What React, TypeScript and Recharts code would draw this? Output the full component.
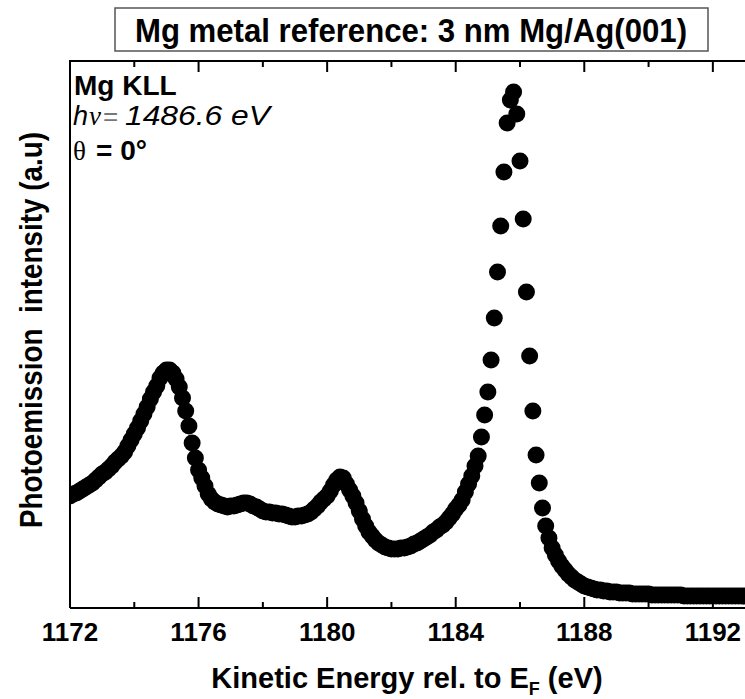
import { Scatter, ScatterChart, XAxis, YAxis } from 'recharts';

// kinetic energy grid (eV), 0.1 eV steps as read from the dot spacing
const energies = [
	1172.0, 1172.1, 1172.2, 1172.3, 1172.4, 1172.5, 1172.6, 1172.7, 1172.8, 1172.9,
	1173.0, 1173.1, 1173.2, 1173.3, 1173.4, 1173.5, 1173.6, 1173.7, 1173.8, 1173.9,
	1174.0, 1174.1, 1174.2, 1174.3, 1174.4, 1174.5, 1174.6, 1174.7, 1174.8, 1174.9,
	1175.0, 1175.1, 1175.2, 1175.3, 1175.4, 1175.5, 1175.6, 1175.7, 1175.8, 1175.9,
	1176.0, 1176.1, 1176.2, 1176.3, 1176.4, 1176.5, 1176.6, 1176.7, 1176.8, 1176.9,
	1177.0, 1177.1, 1177.2, 1177.3, 1177.4, 1177.5, 1177.6, 1177.7, 1177.8, 1177.9,
	1178.0, 1178.1, 1178.2, 1178.3, 1178.4, 1178.5, 1178.6, 1178.7, 1178.8, 1178.9,
	1179.0, 1179.1, 1179.2, 1179.3, 1179.4, 1179.5, 1179.6, 1179.7, 1179.8, 1179.9,
	1180.0, 1180.1, 1180.2, 1180.3, 1180.4, 1180.5, 1180.6, 1180.7, 1180.8, 1180.9,
	1181.0, 1181.1, 1181.2, 1181.3, 1181.4, 1181.5, 1181.6, 1181.7, 1181.8, 1181.9,
	1182.0, 1182.1, 1182.2, 1182.3, 1182.4, 1182.5, 1182.6, 1182.7, 1182.8, 1182.9,
	1183.0, 1183.1, 1183.2, 1183.3, 1183.4, 1183.5, 1183.6, 1183.7, 1183.8, 1183.9,
	1184.0, 1184.1, 1184.2, 1184.3, 1184.4, 1184.5, 1184.6, 1184.7, 1184.8, 1184.9,
	1185.0, 1185.1, 1185.2, 1185.3, 1185.4, 1185.5, 1185.6, 1185.7, 1185.8, 1185.9,
	1186.0, 1186.1, 1186.2, 1186.3, 1186.4, 1186.5, 1186.6, 1186.7, 1186.8, 1186.9,
	1187.0, 1187.1, 1187.2, 1187.3, 1187.4, 1187.5, 1187.6, 1187.7, 1187.8, 1187.9,
	1188.0, 1188.1, 1188.2, 1188.3, 1188.4, 1188.5, 1188.6, 1188.7, 1188.8, 1188.9,
	1189.0, 1189.1, 1189.2, 1189.3, 1189.4, 1189.5, 1189.6, 1189.7, 1189.8, 1189.9,
	1190.0, 1190.1, 1190.2, 1190.3, 1190.4, 1190.5, 1190.6, 1190.7, 1190.8, 1190.9,
	1191.0, 1191.1, 1191.2, 1191.3, 1191.4, 1191.5, 1191.6, 1191.7, 1191.8, 1191.9,
	1192.0, 1192.1, 1192.2, 1192.3, 1192.4, 1192.5, 1192.6, 1192.7, 1192.8, 1192.9,
	1193.0,
];

// photoemission intensity (a.u.), one row per eV
const intensities = [
	112, 114, 115, 117, 119, 121, 123, 125, 128, 131,
	134, 136, 139, 142, 146, 149, 152, 156, 162, 168,
	174, 180, 187, 194, 201, 209, 216, 222, 230, 235,
	238, 238, 235, 229, 221, 210, 197, 182, 165, 150,
	138, 130, 122, 114, 109, 106, 104, 103, 102, 101,
	102, 102, 103, 104, 105, 105, 104, 102, 101, 99,
	97, 96, 96, 95, 95, 94, 94, 93, 92, 91,
	91, 92, 92, 93, 94, 96, 99, 102, 106, 109,
	112, 117, 123, 128, 131, 130, 124, 118, 112, 105,
	97, 89, 82, 76, 72, 68, 65, 63, 61, 60,
	59, 59, 59, 60, 60, 61, 62, 64, 65, 67,
	69, 71, 73, 76, 78, 81, 83, 86, 90, 94,
	99, 103, 108, 116, 124, 132, 142, 152, 171, 193,
	216, 248, 290, 336, 382, 436, 485, 508, 516, 494,
	447, 389, 316, 252, 197, 153, 125, 100, 82, 70,
	60, 53, 47, 42, 38, 34, 31, 28, 26, 24,
	22, 21, 20, 19, 18, 18, 17, 17, 16, 16,
	16, 15, 15, 15, 15, 14, 14, 14, 14, 14,
	14, 13, 13, 13, 13, 13, 13, 13, 13, 13,
	13, 12, 12, 12, 12, 12, 12, 12, 12, 12,
	12, 12, 12, 12, 12, 12, 12, 12, 12, 12,
	12,
];

const xTicks = [1172, 1174, 1176, 1178, 1180, 1182, 1184, 1186, 1188, 1190, 1192];
const xDomain = [1172, 1193];
const yMax = 547;

const data = energies.map((e, i) => ({ energy: e, intensity: intensities[i] }));

// plot box
const W = 745;
const H = 699;
const PLOT_LEFT = 70;
const PLOT_TOP = 61;
const X_AXIS_H = 91;

const FONT = '"Liberation Sans", Arial, sans-serif';
const SERIF = '"Liberation Serif", "DejaVu Serif", serif';

const BottomTick = (props: any) => {
	const { x, y, payload } = props;
	const major = payload.value % 4 === 0;
	return (
		<g>
			<line x1={x} y1={y} x2={x} y2={y - (major ? 11 : 6)} stroke='#000' strokeWidth={2} />
			{major && (
				<text x={x} y={y + 33} textAnchor='middle' fontFamily={FONT} fontWeight='bold' fontSize={26} fill='#000'>
					{payload.value}
				</text>
			)}
		</g>
	);
};

const Dot = (props: any) => <circle cx={props.cx} cy={props.cy} r={8.5} fill='#000' />;

// mirror of the bottom axis along the top frame (same linear mapping)
const topX = (v: number) => PLOT_LEFT + ((v - xDomain[0]) / (xDomain[1] - xDomain[0])) * (W - PLOT_LEFT);

export default function App() {
	return (
		<div style={{ position: 'absolute', left: 0, top: 0, width: W, height: H, background: '#fff' }}>
			<ScatterChart width={W} height={H} margin={{ top: PLOT_TOP, right: 0, bottom: 0, left: 0 }}>
				<XAxis
					dataKey='energy'
					type='number'
					domain={xDomain}
					ticks={xTicks}
					interval={0}
					height={X_AXIS_H}
					tickSize={0}
					tickMargin={0}
					tickLine={false}
					tick={<BottomTick />}
					axisLine={{ stroke: '#000', strokeWidth: 2 }}
					allowDataOverflow
				/>
				<YAxis
					dataKey='intensity'
					type='number'
					domain={[0, yMax]}
					width={PLOT_LEFT}
					tick={false}
					tickLine={false}
					axisLine={{ stroke: '#000', strokeWidth: 2 }}
				/>
				<Scatter data={data} shape={<Dot />} isAnimationActive={false} />
			</ScatterChart>
			<svg width={W} height={H} style={{ position: 'absolute', left: 0, top: 0, pointerEvents: 'none' }} fontFamily={FONT}>
				{/* top frame */}
				<line x1={PLOT_LEFT - 1} y1={PLOT_TOP} x2={W} y2={PLOT_TOP} stroke='#000' strokeWidth={2} />
				{xTicks.map((t) => (
					<line
						key={t}
						x1={topX(t)}
						y1={PLOT_TOP}
						x2={topX(t)}
						y2={PLOT_TOP + (t % 4 === 0 ? 11 : 6)}
						stroke='#000'
						strokeWidth={2}
					/>
				))}
				<rect x={115} y={8} width={593} height={43} fill='none' stroke='#555' strokeWidth={1.5} />
				<text x={411} y={42} textAnchor='middle' fontSize={34} fontWeight='bold' fill='#000' textLength={552} lengthAdjust='spacingAndGlyphs'>
					Mg metal reference: 3 nm Mg/Ag(001)
				</text>
				<text x={74} y={95} fontSize={28} fontWeight='bold' fill='#000'>
					Mg KLL
				</text>
				<text x={73} y={125} fontSize={27} fontStyle='italic' fill='#000'>
					h
				</text>
				<text x={89} y={125} fontSize={27} fontStyle='italic' fontFamily={SERIF} fill='#000'>
					ν
				</text>
				<text x={103} y={125} fontSize={26} fill='#777'>
					=
				</text>
				<text x={125} y={125} fontSize={27} fontStyle='italic' fill='#000' textLength={145} lengthAdjust='spacingAndGlyphs'>
					1486.6 eV
				</text>
				<text x={73} y={160} fontSize={27} fontFamily={SERIF} fill='#000'>
					θ
				</text>
				<text x={96} y={160} fontSize={28} fontWeight='bold' fill='#000'>
					= 0°
				</text>
				<text x={407} y={688} textAnchor='middle' fontSize={29} fontWeight='bold' fill='#000'>
					Kinetic Energy rel. to E<tspan fontSize={18} dy={7}>F</tspan>
					<tspan dy={-7}> (eV)</tspan>
				</text>
				<text
					x={0}
					y={0}
					transform='translate(42 330) rotate(-90)'
					textAnchor='middle'
					fontSize={32}
					fontWeight='bold'
					fill='#000'
					xmlSpace='preserve'
					style={{ whiteSpace: 'pre' }}
					textLength={396}
					lengthAdjust='spacingAndGlyphs'>
					{'Photoemission  intensity (a.u)'}
				</text>
			</svg>
		</div>
	);
}
